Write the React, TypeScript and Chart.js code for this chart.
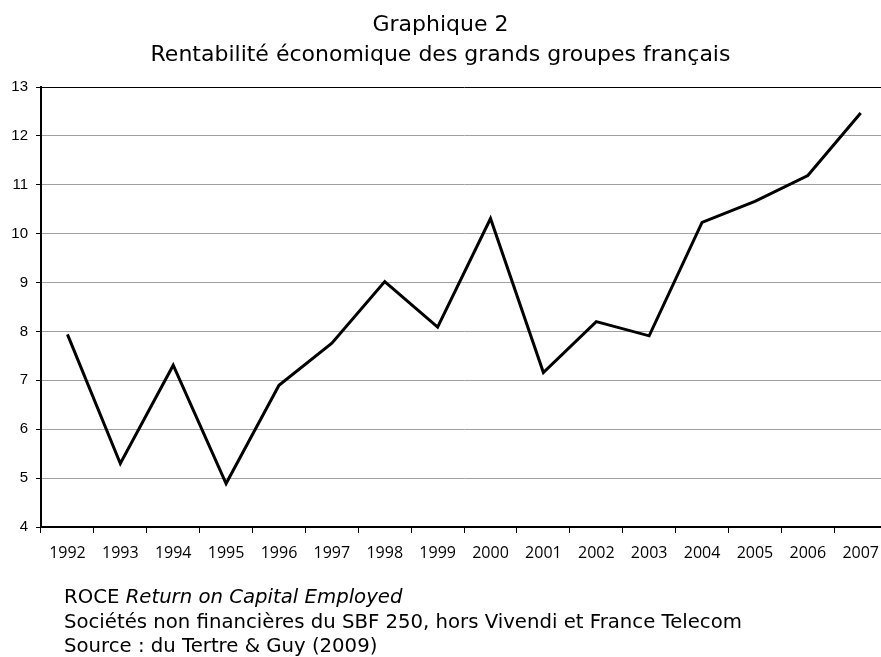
import React, { useEffect, useRef } from "react";
import { Chart, registerables } from "chart.js";

Chart.register(...registerables);

const years: string[] = [
  "1992", "1993", "1994", "1995", "1996", "1997", "1998", "1999",
  "2000", "2001", "2002", "2003", "2004", "2005", "2006", "2007",
];
const roce: number[] = [
  7.94, 5.3, 7.31, 4.89, 6.9, 7.76, 9.02, 8.09,
  10.31, 7.16, 8.2, 7.91, 10.23, 10.66, 11.19, 12.47,
];
const yMin = 4;
const yMax = 13;

const titleLines: string[] = [
  "Graphique 2",
  "Rentabilité économique des grands groupes français",
];

export default function App() {
  const ref = useRef<HTMLCanvasElement | null>(null);

  useEffect(() => {
    if (!ref.current) return;
    const chart = new Chart(ref.current, {
      type: "line",
      data: {
        labels: years,
        datasets: [
          {
            data: roce,
            borderColor: "#000",
            borderWidth: 3,
            pointRadius: 0,
            tension: 0,
            fill: false,
          },
        ],
      },
      options: {
        responsive: false,
        animation: false,
        devicePixelRatio: 1,
        layout: { padding: { top: 87, left: 0, right: 0, bottom: 0 } },
        plugins: {
          legend: { display: false },
          tooltip: { enabled: false },
          title: { display: false },
        },
        scales: {
          x: {
            type: "category",
            offset: true,
            grid: {
              offset: true,
              drawOnChartArea: false,
              tickLength: 6,
              color: "#000",
              tickColor: "#000",
            },
            border: { color: "#000", width: 2 },
            ticks: {
              color: "#000",
              font: { family: "'Open Sans', sans-serif", size: 16 },
              padding: 11,
              maxRotation: 0,
              autoSkip: false,
            },
            afterFit: (s: any) => {
              s.height = 130;
            },
          },
          y: {
            min: yMin,
            max: yMax,
            ticks: {
              stepSize: 1,
              color: "#000",
              font: { family: "'Liberation Sans', Arial, sans-serif", size: 15 },
              padding: 8,
            },
            grid: {
              color: (ctx: any) => (ctx.tick && ctx.tick.value === yMax ? "#000" : "#a0a0a0"),
              tickColor: "#000",
              tickLength: 5,
              lineWidth: 1,
            },
            border: { color: "#000", width: 2 },
            afterFit: (s: any) => {
              s.width = 41;
            },
          },
        },
      },
    });
    return () => chart.destroy();
  }, []);

  return (
    <div
      style={{
        position: "fixed",
        left: 0,
        top: 0,
        width: 881,
        height: 657,
        overflow: "hidden",
        background: "#fff",
      }}
    >
      <canvas
        ref={ref}
        width={890}
        height={657}
        style={{ position: "absolute", left: 0, top: 0, width: 890, height: 657 }}
      />
      <div
        style={{
          position: "absolute",
          left: 0,
          top: 9,
          width: 881,
          textAlign: "center",
          fontFamily: "'DejaVu Sans', Verdana, sans-serif",
          fontSize: 22,
          lineHeight: "29.5px",
          color: "#000",
        }}
      >
        {titleLines.map((t) => (
          <div key={t}>{t}</div>
        ))}
      </div>
      <div
        style={{
          position: "absolute",
          left: 64,
          top: 585,
          fontFamily: "'DejaVu Sans', Verdana, sans-serif",
          fontSize: 19.7,
          lineHeight: "24.7px",
          color: "#000",
          whiteSpace: "nowrap",
        }}
      >
        <div>
          ROCE <i>Return on Capital Employed</i>
        </div>
        <div>Sociétés non financières du SBF 250, hors Vivendi et France Telecom</div>
        <div>Source : du Tertre &amp; Guy (2009)</div>
      </div>
    </div>
  );
}
